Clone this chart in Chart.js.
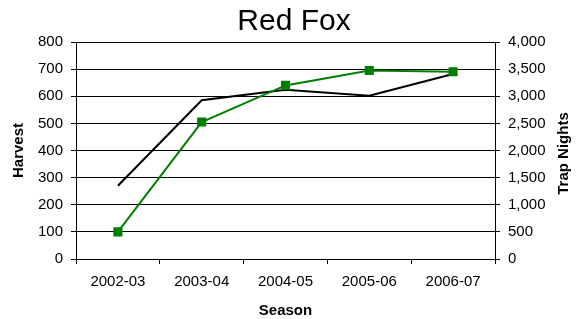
<!DOCTYPE html>
<html>
<head>
<meta charset="utf-8">
<script src="https://cdn.jsdelivr.net/npm/chart.js@4"></script>
<style>
  html, body { margin: 0; padding: 0; background: #fff; }
  #wrap { width: 588px; height: 319px; position: relative; }
</style>
</head>
<body>
<div id="wrap"><canvas id="c"></canvas></div>
<script>
const seasons = ['2002-03', '2003-04', '2004-05', '2005-06', '2006-07']
const harvest = [100, 505, 640, 695, 690]
const trapNights = [1350, 2925, 3120, 3010, 3410]
const harvestTicks = [0, 800, 100]
const trapTicks = [0, 4000, 500]

const FONT = "'Liberation Sans', Arial, sans-serif"

// axis titles drawn by hand so the right one reads bottom-to-top
const axisTitles = {
  id: 'axisTitles',
  afterDraw(chart) {
    const ctx = chart.ctx
    const a = chart.chartArea
    const midY = (a.top + a.bottom) / 2
    ctx.save()
    ctx.fillStyle = '#000'
    ctx.font = 'bold 15px ' + FONT
    ctx.textAlign = 'center'
    ctx.textBaseline = 'middle'
    ctx.fillText('Season', (a.left + a.right) / 2, 311)
    ctx.translate(19, midY)
    ctx.rotate(-Math.PI / 2)
    ctx.fillText('Harvest', 0, 0)
    ctx.restore()
    ctx.save()
    ctx.fillStyle = '#000'
    ctx.font = 'bold 15px ' + FONT
    ctx.textAlign = 'center'
    ctx.textBaseline = 'middle'
    ctx.translate(564, midY + 3)
    ctx.rotate(-Math.PI / 2)
    ctx.fillText('Trap Nights', 0, 0)
    ctx.restore()
  },
}

new Chart(document.getElementById('c'), {
  type: 'line',
  data: {
    labels: seasons,
    datasets: [
      {
        label: 'Harvest',
        data: harvest,
        yAxisID: 'y',
        borderColor: '#008000',
        backgroundColor: '#008000',
        borderWidth: 2,
        pointStyle: 'rect',
        pointRadius: 5,
        pointHoverRadius: 5,
        tension: 0,
      },
      {
        label: 'Trap Nights',
        data: trapNights,
        yAxisID: 'y1',
        borderColor: '#000',
        backgroundColor: '#000',
        borderWidth: 2,
        pointRadius: 0,
        tension: 0,
      },
    ],
  },
  options: {
    responsive: true,
    maintainAspectRatio: false,
    animation: false,
    layout: { padding: 0 },
    plugins: {
      legend: { display: false },
      tooltip: { enabled: false },
      title: {
        display: true,
        text: 'Red Fox',
        color: '#000',
        font: { family: FONT, size: 30, weight: 'normal' },
        padding: { top: 4, bottom: 2 },
      },
    },
    scales: {
      x: {
        offset: true,
        grid: {
          offset: true,
          drawOnChartArea: false,
          tickLength: 5,
          color: '#000',
        },
        border: { color: '#000', width: 1 },
        ticks: { color: '#000', font: { family: FONT, size: 15 }, padding: 9, maxRotation: 0 },
        afterFit(s) { s.height = 60 },
      },
      y: {
        position: 'left',
        min: harvestTicks[0],
        max: harvestTicks[1],
        ticks: { stepSize: harvestTicks[2], color: '#000', font: { family: FONT, size: 15 }, padding: 8 },
        grid: { color: '#000', tickLength: 5, lineWidth: 1 },
        border: { color: '#000', width: 1 },
        afterFit(s) { s.width = 76 },
      },
      y1: {
        position: 'right',
        min: trapTicks[0],
        max: trapTicks[1],
        ticks: {
          stepSize: trapTicks[2],
          color: '#000',
          font: { family: FONT, size: 15 },
          padding: 8,
          callback: (v) => v.toLocaleString('en-US'),
        },
        grid: { drawOnChartArea: false, tickLength: 5, color: '#000' },
        border: { color: '#000', width: 1 },
        afterFit(s) { s.width = 93 },
      },
    },
  },
  plugins: [axisTitles],
})
</script>
</body>
</html>
